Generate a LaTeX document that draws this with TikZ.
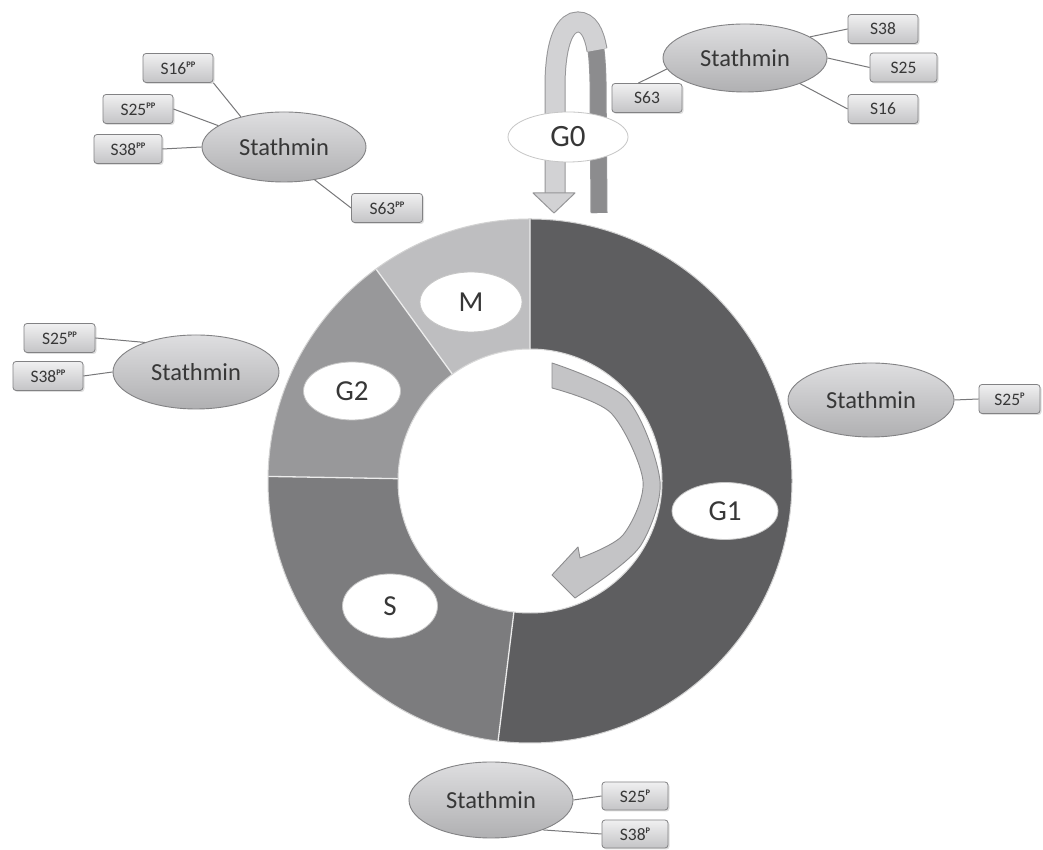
\documentclass[tikz,border=0pt]{standalone}
\usepackage{fontspec}
\setmainfont{Carlito}
\usetikzlibrary{shapes.geometric,shadows}
\definecolor{cGone}{RGB}{94,94,96}
\definecolor{cSph}{RGB}{124,124,126}
\definecolor{cGtwo}{RGB}{152,152,154}
\definecolor{cMph}{RGB}{190,190,192}
\definecolor{cText}{RGB}{55,55,55}
\definecolor{cEdge}{RGB}{130,130,132}
\definecolor{cLine}{RGB}{120,120,122}
\definecolor{cTop}{RGB}{222,222,224}
\definecolor{cBot}{RGB}{176,176,178}
\definecolor{cBoxTop}{RGB}{240,240,241}
\definecolor{cBoxBot}{RGB}{196,196,198}
\definecolor{cLoopLight}{RGB}{210,210,212}
\definecolor{cLoopDark}{RGB}{140,140,142}
\definecolor{cLoopEdge}{RGB}{150,150,152}
\definecolor{cArrow}{RGB}{196,196,198}
\newcommand{\supx}[1]{\raisebox{0.42em}{\fontsize{8.5}{8.5}\selectfont\bfseries #1}}
\begin{document}
\begin{tikzpicture}[x=1pt,y=1pt,
  stath/.style={ellipse, draw=cEdge, line width=0.9pt, top color=cTop, bottom color=cBot,
    minimum width=164pt, minimum height=72pt, inner sep=0pt,
    font=\fontsize{24.5}{29}\selectfont, text=cText},
  sbox/.style={rectangle, rounded corners=3pt, draw=cEdge, line width=0.8pt,
    top color=cBoxTop, bottom color=cBoxBot,
    minimum width=70pt, minimum height=29pt, inner sep=0pt,
    font=\fontsize{17.5}{20}\selectfont, text=cText,
    drop shadow={shadow xshift=1.5pt, shadow yshift=-1.5pt, opacity=0.25}},
  phase/.style={ellipse, fill=white, draw=gray!45, line width=0.8pt, inner sep=0pt,
    font=\fontsize{29}{34}\selectfont, text=cText},
  link/.style={draw=cLine, line width=1pt}
]
\useasboundingbox (0,0) rectangle (1043,850);
\fill[white] (0,0) rectangle (1043,850);

% ---- donut ----
\begin{scope}[shift={(530,369)}]
  \fill[cGone] (90:262) arc[start angle=90,end angle=-97,radius=262] -- (263:132) arc[start angle=263,end angle=450,radius=132] -- cycle;
  \fill[cSph] (263:262) arc[start angle=263,end angle=179,radius=262] -- (179:132) arc[start angle=179,end angle=263,radius=132] -- cycle;
  \fill[cGtwo] (179:262) arc[start angle=179,end angle=126,radius=262] -- (126:132) arc[start angle=126,end angle=179,radius=132] -- cycle;
  \fill[cMph] (126:262) arc[start angle=126,end angle=90,radius=262] -- (90:132) arc[start angle=90,end angle=126,radius=132] -- cycle;
  \draw[white!85!gray, line width=1.3pt] (90:132) -- (90:262) (263:132) -- (263:262) (179:132) -- (179:262) (126:132) -- (126:262);
  \draw[gray!35, line width=1pt] (0,0) circle[radius=262];
  \draw[gray!30, line width=1pt] (0,0) circle[radius=132];
\end{scope}

% ---- inner arrow ----
\filldraw[fill=cArrow, draw=cLoopDark, line width=0.9pt, line join=round]
  (552,487) -- plot[smooth] coordinates {(552,487) (627,451) (660,369) (641,305) (597,267)}
  -- (575,252) -- (552,275) -- (578,303)
  -- plot[smooth] coordinates {(580,292) (623,315) (643,369) (611,437) (552,462)} -- cycle;

% ---- phase labels ----
\node[phase, minimum width=102pt, minimum height=60pt] (M) at (471,548) {M};
\node[phase, minimum width=97pt, minimum height=58pt] (G2) at (352,459) {G2};
\node[phase, minimum width=95pt, minimum height=64pt] (S) at (390,244) {S};
\node[phase, minimum width=106pt, minimum height=57pt] (G1) at (725,339) {G1};

% ---- G0 loop ----
\draw[line width=1pt, draw=cLoopEdge, double=cLoopDark, double distance=15pt]
  (599,637) -- (598,768) .. controls (597,812) and (592,826) .. (582,828);
\draw[line width=1pt, draw=cLoopEdge, double=cLoopLight, double distance=19pt]
  (555,656) -- (555,768) .. controls (556,812) and (566,828) .. (578,828) .. controls (588,828) and (594,818) .. (597,800);
\filldraw[fill=cLoopLight, draw=cLoopEdge, line width=1pt, line join=round]
  (533,657) -- (575,657) -- (554,637) -- cycle;
\node[phase, minimum width=120pt, minimum height=50pt, font=\fontsize{31}{36}\selectfont] (G0) at (568,713) {G0};

% ---- top-left stathmin ----
\node[stath, minimum height=70pt] (tlS) at (284,703) {Stathmin};
\node[sbox] (tl16) at (178,782) {S16\supx{PP}};
\node[sbox] (tl25) at (138,741) {S25\supx{PP}};
\node[sbox, minimum width=68pt] (tl38) at (128,701) {S38\supx{PP}};
\node[sbox, minimum width=71pt] (tl63) at (387,642) {S63\supx{PP}};
\draw[link] (tl16.south east) -- (tlS.145);
\draw[link] (tl25.east) -- (tlS.162);
\draw[link] (tl38.east) -- (tlS.west);
\draw[link] (tlS.-47) -- (tl63.west);

% ---- top-right stathmin ----
\node[stath, minimum height=68pt] (trS) at (745,792) {Stathmin};
\node[sbox] (tr38) at (883,821) {S38};
\node[sbox, minimum width=67pt] (tr25) at (903.5,782.5) {S25};
\node[sbox] (tr16) at (883,741) {S16};
\node[sbox] (tr63) at (647,752) {S63};
\draw[link] (trS.18) -- (tr38.west);
\draw[link] (trS.east) -- (tr25.west);
\draw[link] (trS.-25) -- (tr16.west);
\draw[link] (trS.188) -- (tr63.120);

% ---- left stathmin ----
\node[stath, minimum height=74pt, minimum width=166pt] (lS) at (196,478) {Stathmin};
\node[sbox, minimum width=71pt] (l25) at (59.5,512) {S25\supx{PP}};
\node[sbox] (l38) at (48,474) {S38\supx{PP}};
\draw[link] (l25.east) -- (lS.150);
\draw[link] (l38.east) -- (lS.west);

% ---- right stathmin ----
\node[stath, minimum height=74pt, minimum width=166pt] (rS) at (871,450) {Stathmin};
\node[sbox, minimum width=61pt] (r25) at (1009.5,451) {S25\supx{P}};
\draw[link] (rS.east) -- (r25.west);

% ---- bottom stathmin ----
\node[stath, minimum height=76pt] (bS) at (491,50) {Stathmin};
\node[sbox, minimum width=66pt, minimum height=28pt] (b25) at (635,54) {S25\supx{P}};
\node[sbox, minimum width=66pt, minimum height=28pt] (b38) at (635,16) {S38\supx{P}};
\draw[link] (bS.east) -- (b25.west);
\draw[link] (bS.-30) -- (b38.west);
\end{tikzpicture}
\end{document}
